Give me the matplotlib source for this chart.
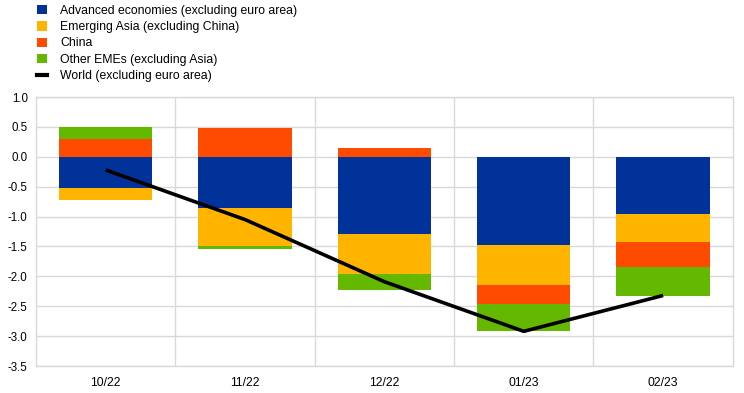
import numpy as np
import matplotlib.pyplot as plt
from matplotlib.patches import Patch
from matplotlib.lines import Line2D

plt.rcParams['font.family'] = ['Liberation Sans', 'DejaVu Sans']

# data
months = ['10/22', '11/22', '12/22', '01/23', '02/23']
advanced = [-0.52, -0.85, -1.29, -1.48, -0.96]
emerging_asia = [-0.20, -0.64, -0.67, -0.66, -0.46]
china = [0.30, 0.49, 0.15, -0.32, -0.42]
other_emes = [0.20, -0.06, -0.26, -0.45, -0.49]
world = [-0.22, -1.05, -2.09, -2.92, -2.32]

series = [
    ('Advanced economies (excluding euro area)', advanced, '#003299'),
    ('Emerging Asia (excluding China)', emerging_asia, '#FFB400'),
    ('China', china, '#FF4B00'),
    ('Other EMEs (excluding Asia)', other_emes, '#65B800'),
]

fig = plt.figure(figsize=(7.44, 3.93), dpi=100)
ax = fig.add_axes([0.0484, 0.0687, 0.9366, 0.6843])

x = np.arange(len(months))
pos_base = np.zeros(len(months))
neg_base = np.zeros(len(months))
for name, vals, col in series:
    vals = np.array(vals)
    bottoms = np.where(vals >= 0, pos_base, neg_base)
    ax.bar(x, vals, bottom=bottoms, width=0.67, color=col, edgecolor='none', zorder=2)
    pos_base += np.where(vals >= 0, vals, 0)
    neg_base += np.where(vals < 0, vals, 0)

ax.plot(x, world, color='black', linewidth=2.6, zorder=3, solid_capstyle='butt')

ax.set_xlim(-0.5, len(months) - 0.5)
ax.set_ylim(-3.5, 1.0)
ax.set_yticks(np.arange(-3.5, 1.01, 0.5))
ax.set_yticklabels([f'{v:.1f}' for v in np.arange(-3.5, 1.01, 0.5)])
ax.set_xticks(x)
ax.set_xticklabels(months)
ax.set_xticks(np.arange(0.5, len(months) - 0.5, 1), minor=True)

ax.grid(axis='y', color='#d9d9d9', linewidth=1, zorder=0)
ax.grid(axis='x', which='minor', color='#d9d9d9', linewidth=1, zorder=0)
ax.grid(axis='x', which='major', visible=False)
for s in ax.spines.values():
    s.set_color('#d9d9d9')
    s.set_linewidth(1)
ax.tick_params(which='both', length=0, colors='black')
ax.tick_params(axis='x', labelsize=8.8, pad=8)
ax.tick_params(axis='y', labelsize=8.3, pad=6)

handles = [Patch(facecolor=c, edgecolor='none') for _, _, c in series]
handles.append(Line2D([0], [0], color='black', linewidth=3))
labels = [n for n, _, _ in series] + ['World (excluding euro area)']
fig.legend(handles, labels, loc='upper left', bbox_to_anchor=(0.043, 1.0),
           frameon=False, fontsize=8.8, handlelength=0.8, handleheight=0.8,
           handletextpad=1.1, labelspacing=0.35, borderaxespad=0)

fig.savefig('out.png', dpi=100)
